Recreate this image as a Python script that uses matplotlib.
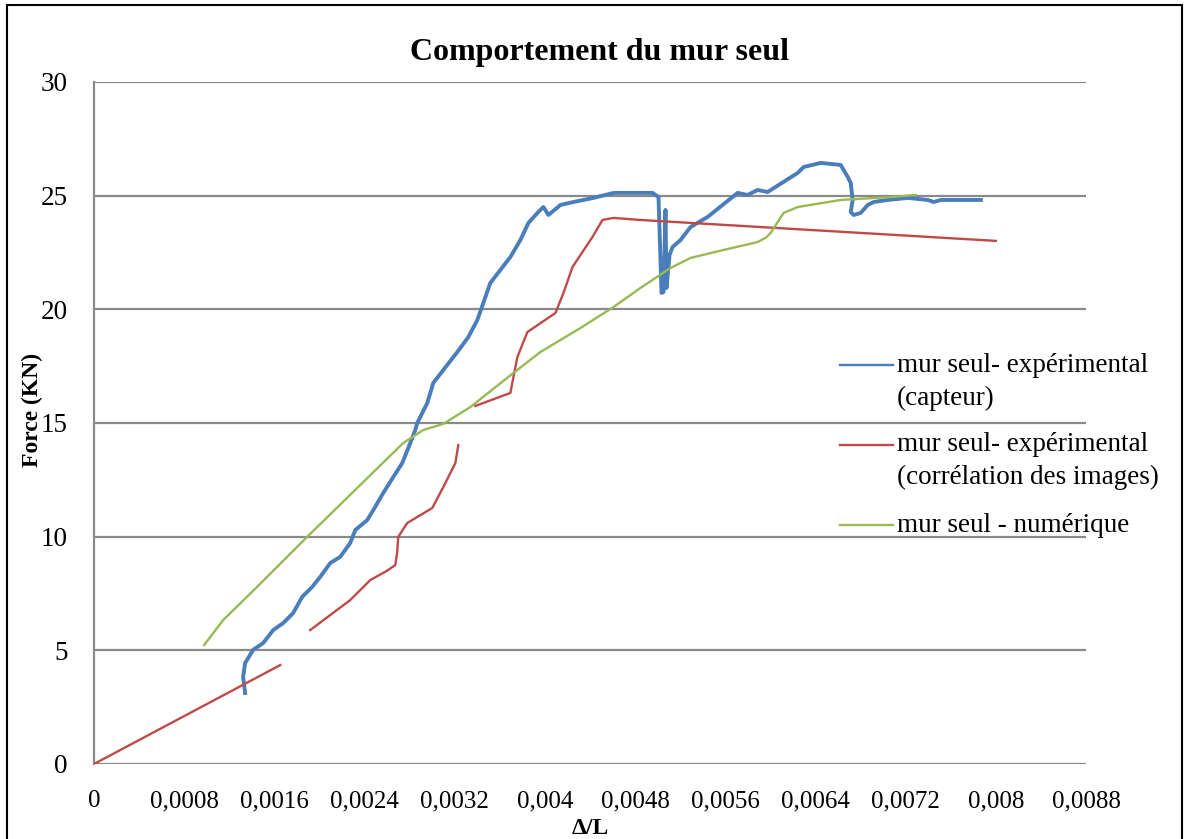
import numpy as np
import matplotlib
matplotlib.use("Agg")
import matplotlib.pyplot as plt
from matplotlib.lines import Line2D
from matplotlib.patches import Rectangle

plt.rcParams['font.family'] = ['Liberation Serif', 'DejaVu Serif']

# mur seul - experimental (capteur)
blue_x = [0.001341, 0.001323, 0.001341, 0.001412, 0.001501, 0.001590, 0.001679,
          0.001767, 0.001847, 0.001936, 0.002007, 0.002096, 0.002184, 0.002273,
          0.002318, 0.002424, 0.002478, 0.002566, 0.002655, 0.002735, 0.002806,
          0.002850, 0.002868, 0.002957, 0.003010, 0.003099, 0.003223, 0.003321,
          0.003401, 0.003454, 0.003516, 0.003605, 0.003694, 0.003783, 0.003854,
          0.003934, 0.003987, 0.004032, 0.004138, 0.004253, 0.004431, 0.004609,
          0.004786, 0.004955, 0.005008, 0.005035, 0.005053, 0.005070, 0.005079,
          0.005106, 0.005133, 0.005204, 0.005292, 0.005443, 0.005710, 0.005799,
          0.005887, 0.005976, 0.006243, 0.006296, 0.006447, 0.006624, 0.006687,
          0.006713, 0.006731, 0.006713, 0.006740, 0.006802, 0.006864, 0.006918,
          0.007042, 0.007219, 0.007397, 0.007450, 0.007512, 0.007868]
blue_y = [3.12, 3.83, 4.44, 5.02, 5.32, 5.89, 6.20,
          6.64, 7.35, 7.79, 8.23, 8.84, 9.11, 9.72,
          10.29, 10.73, 11.17, 11.92, 12.62, 13.24, 14.12,
          14.69, 15.00, 15.88, 16.76, 17.33, 18.12, 18.78,
          19.53, 20.28, 21.16, 21.73, 22.30, 23.05, 23.80,
          24.24, 24.50, 24.15, 24.59, 24.72, 24.90, 25.12,
          25.12, 25.12, 24.94, 20.72, 20.76, 24.37, 20.94,
          22.39, 22.74, 23.05, 23.62, 24.06, 25.12, 25.03,
          25.25, 25.16, 26.00, 26.26, 26.44, 26.35, 25.82,
          25.56, 24.81, 24.28, 24.15, 24.24, 24.59, 24.72,
          24.81, 24.90, 24.81, 24.72, 24.81, 24.81]

# mur seul - experimental (correlation des images), three separate runs
red_x = [0.0, 0.001652, np.nan,
         0.001918, 0.002273, 0.002451, 0.002600, 0.002673, 0.002690, 0.002699,
         0.002779, 0.003001, 0.003099, 0.003206, 0.003232, np.nan,
         0.003383, 0.003694, 0.003721, 0.003756, 0.003845, 0.004094, 0.004165,
         0.004245, 0.004422, 0.004511, 0.004609, 0.004848, 0.008001]
red_y = [0.0, 4.35, np.nan,
         5.89, 7.21, 8.09, 8.50, 8.75, 9.30, 9.99,
         10.60, 11.26, 12.18, 13.24, 14.03, np.nan,
         15.75, 16.32, 17.02, 17.90, 19.00, 19.84, 20.72,
         21.86, 23.18, 23.93, 24.02, 23.93, 23.01]

# mur seul - numerique
green_x = [0.000977, 0.001146, 0.001447, 0.001891, 0.002335, 0.002744, 0.002921,
           0.003099, 0.003339, 0.003721, 0.003960, 0.004316, 0.004609, 0.004848,
           0.005115, 0.005292, 0.005585, 0.005887, 0.005960, 0.006003, 0.006060,
           0.006118, 0.006243, 0.006624, 0.007068, 0.007290]
green_y = [5.23, 6.33, 7.79, 9.99, 12.14, 14.12, 14.69,
           14.96, 15.70, 17.20, 18.12, 19.18, 20.10, 20.94,
           21.82, 22.26, 22.61, 22.96, 23.15, 23.36, 23.80,
           24.24, 24.50, 24.81, 24.94, 25.03]

x_ticks = [0, 0.0008, 0.0016, 0.0024, 0.0032, 0.004, 0.0048, 0.0056, 0.0064,
           0.0072, 0.008, 0.0088]
x_tick_labels = ['0', '0,0008', '0,0016', '0,0024', '0,0032', '0,004', '0,0048',
                 '0,0056', '0,0064', '0,0072', '0,008', '0,0088']
y_ticks = [0, 5, 10, 15, 20, 25, 30]

labels = ['mur seul- expérimental\n(capteur)',
          'mur seul- expérimental\n(corrélation des images)',
          'mur seul - numérique']
colors = ['#4a7ebb', '#be4b48', '#98b954']

fig = plt.figure(figsize=(11.88, 8.39), dpi=100, facecolor='white')
ax = fig.add_axes([0.0791, 0.0894, 0.835, 0.8129])

ax.plot(blue_x, blue_y, color=colors[0], lw=2.8, zorder=3)
ax.plot(red_x, red_y, color=colors[1], lw=1.7, zorder=3)
ax.plot(green_x, green_y, color=colors[2], lw=1.7, zorder=3)

ax.set_xlim(0, 0.0088)
ax.set_ylim(0, 30)
ax.set_xticks(x_ticks)
ax.set_xticklabels(x_tick_labels)
ax.set_yticks(y_ticks)
ax.tick_params(axis='x', length=0, labelsize=18, pad=19)
ax.tick_params(axis='y', length=0, labelsize=19.5, pad=19)
ax.grid(axis='y', color='#8a8a8a', lw=1.6)
ax.set_axisbelow(True)
for side in ['top', 'right', 'bottom']:
    ax.spines[side].set_visible(False)
ax.spines['left'].set_color('#8a8a8a')
ax.spines['left'].set_linewidth(1.6)

fig.text(0.505, 0.938, 'Comportement du mur seul', ha='center', va='center',
         fontsize=23, fontweight='bold')
fig.text(0.027, 0.511, 'Force (KN)', ha='center', va='center', rotation=90,
         fontsize=17, fontweight='bold')
fig.text(0.497, 0.012, 'Δ/L', ha='center', va='center',
         fontsize=17, fontweight='bold')

# legend drawn by hand so the sample line sits on the first text line
entry_y = [0.585, 0.468, 0.350]
for lab, col, ey in zip(labels, colors, entry_y):
    ax.add_line(Line2D([0.752, 0.805], [ey, ey], transform=ax.transAxes,
                       color=col, lw=1.7, clip_on=False))
    for k, line in enumerate(lab.split('\n')):
        ax.text(0.8095, ey - k * 0.0485, line, transform=ax.transAxes,
                ha='left', va='center', fontsize=19.5, clip_on=False)

fig.add_artist(Rectangle((0.006, -0.01), 0.989, 1.004, transform=fig.transFigure,
                         fill=False, edgecolor='black', lw=1.5))

fig.savefig('out.png', dpi=100, facecolor='white')
